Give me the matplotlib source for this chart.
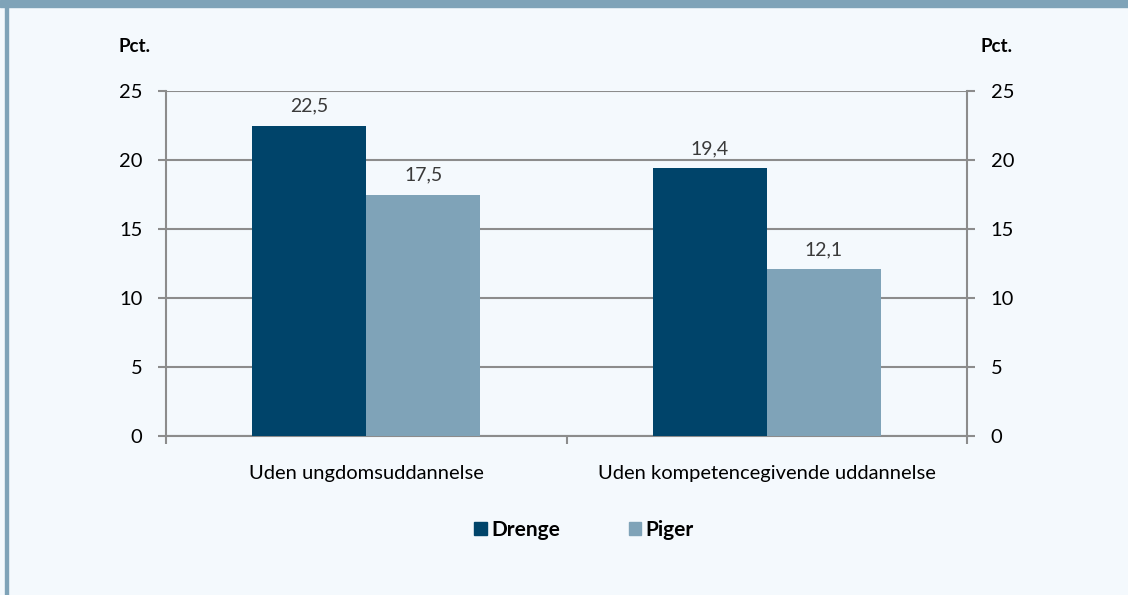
import matplotlib.pyplot as plt
import matplotlib.patches as mpatches
import numpy as np

plt.rcParams['font.family'] = ['Lato', 'DejaVu Sans']

# Data
kategorier = ['Uden ungdomsuddannelse', 'Uden kompetencegivende uddannelse']
drenge = [22.5, 19.4]
piger = [17.5, 12.1]
serier = ['Drenge', 'Piger']
yticks = [0, 5, 10, 15, 20, 25]

farve_drenge = '#00446A'
farve_piger = '#7FA3B8'
baggrund = '#F4F9FD'
gitter = '#8C8C8C'

fig = plt.figure(figsize=(11.28, 5.95), dpi=100, facecolor=baggrund)

# ramme: topbjaelke og venstre kant
fig.patches.append(mpatches.Rectangle((0, 1 - 7 / 595), 1, 7 / 595, transform=fig.transFigure,
                                      color=farve_piger, zorder=0))
fig.patches.append(mpatches.Rectangle((5 / 1128, 0), 3 / 1128, 1, transform=fig.transFigure,
                                      color=farve_piger, zorder=0))

ax = fig.add_axes([166 / 1128, 1 - 436 / 595, (967 - 166) / 1128, (436 - 91) / 595])
ax.set_facecolor(baggrund)

x = np.arange(len(kategorier))
w = 0.285
b1 = ax.bar(x - w / 2, drenge, w, color=farve_drenge, zorder=3, label=serier[0])
b2 = ax.bar(x + w / 2, piger, w, color=farve_piger, zorder=3, label=serier[1])

for bars, vals in [(b1, drenge), (b2, piger)]:
    for rect, v in zip(bars, vals):
        ax.annotate(f'{v:.1f}'.replace('.', ','), (rect.get_x() + rect.get_width() / 2, v),
                    xytext=(0, 8), textcoords='offset points', ha='center', va='bottom',
                    fontsize=14, color='#3a3a3a')

ax.set_xlim(-0.5, 1.5)
ax.set_ylim(0, 25)
ax.set_yticks(yticks)
ax.yaxis.grid(True, color=gitter, linewidth=1.5, zorder=0)
ax.set_axisbelow(True)

for s in ['left', 'right', 'bottom']:
    ax.spines[s].set_color(gitter)
    ax.spines[s].set_linewidth(1.5)
ax.spines['top'].set_visible(False)

ax.tick_params(axis='y', length=6, width=1.5, color=gitter, labelsize=14.5, pad=11,
               labelcolor='black', right=True, labelright=True)

# x-akse: tick mellem kategorier, labels i midten
ax.set_xticks([-0.5, 0.5, 1.5])
ax.set_xticklabels([])
ax.tick_params(axis='x', length=6, width=1.5, color=gitter)
for xi, lab in zip(x, kategorier):
    ax.text(xi, -2.7, lab, ha='center', va='center', fontsize=14.5, color='black',
            transform=ax.transData)

fig.text(134 / 1128, 1 - 47 / 595, 'Pct.', ha='center', va='center', fontsize=13.5,
         fontweight='bold')
fig.text(996 / 1128, 1 - 47 / 595, 'Pct.', ha='center', va='center', fontsize=13.5,
         fontweight='bold')

leg = fig.legend(handles=[mpatches.Patch(color=farve_drenge, label=serier[0]),
                          mpatches.Patch(color=farve_piger, label=serier[1])],
                 loc='center', bbox_to_anchor=(584 / 1128, 1 - 530 / 595), ncol=2,
                 frameon=False, handlelength=0.6, handleheight=0.6, handletextpad=0.2,
                 columnspacing=3.3, prop={'weight': 'bold', 'size': 15})

fig.savefig('out.png', dpi=100, facecolor=baggrund)
